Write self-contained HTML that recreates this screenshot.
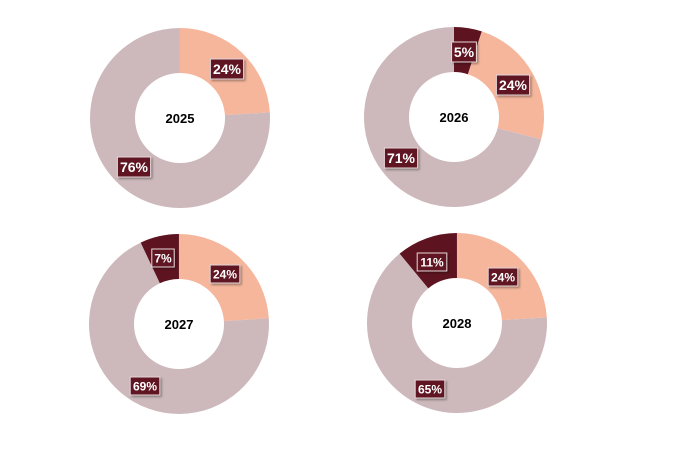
<!DOCTYPE html>
<html><head><meta charset="utf-8"><style>
html,body{margin:0;padding:0;background:#fff;}
svg text{font-family:"Liberation Sans",sans-serif;font-weight:bold;}
</style></head><body>
<svg id="s" width="680" height="446" viewBox="0 0 680 446" xmlns="http://www.w3.org/2000/svg">
<defs><filter id="sh" x="-20%" y="-20%" width="150%" height="160%"><feDropShadow dx="1.5" dy="1.5" stdDeviation="1" flood-color="#000" flood-opacity="0.35"/></filter></defs>
</svg>
<script>
const s=document.getElementById('s');
const NS='http://www.w3.org/2000/svg';
const C={m:'#cdb9bc',o:'#f5b69c',d:'#5e1420'};
function arc(cx,cy,R,r,a0,a1,col){
 const f=a=>[Math.sin(a*2*Math.PI),-Math.cos(a*2*Math.PI)];
 const [x0,y0]=f(a0),[x1,y1]=f(a1);const lg=(a1-a0)>0.5?1:0;
 const p=document.createElementNS(NS,'path');
 p.setAttribute('d',`M${cx+R*x0},${cy+R*y0} A${R},${R} 0 ${lg} 1 ${cx+R*x1},${cy+R*y1} L${cx+r*x1},${cy+r*y1} A${r},${r} 0 ${lg} 0 ${cx+r*x0},${cy+r*y0}Z`);
 p.setAttribute('fill',col);s.appendChild(p);
}
function lab(x,y,t,fs){
 const w=t.length*fs*0.6+8,h=fs+6;
 const g=document.createElementNS(NS,'g');
 g.innerHTML=`<rect x="${x-w/2}" y="${y-h/2}" width="${w}" height="${h}" fill="${C.d}" stroke="#e8d8da" stroke-width="1" filter="url(#sh)"/><text x="${x}" y="${y+fs*0.36}" font-size="${fs}" fill="#fff" text-anchor="middle">${t}</text>`;
 s.appendChild(g);
}
function donut(cx,cy,segs,year,labels,fs){
 segs.forEach(sg=>arc(cx,cy,90,45,sg[0],sg[1],sg[2]));
 const t=document.createElementNS(NS,'text');
 t.setAttribute('x',cx);t.setAttribute('y',cy+5);t.setAttribute('font-size','13');t.setAttribute('text-anchor','middle');t.setAttribute('fill','#000');t.textContent=year;s.appendChild(t);
 labels.forEach(l=>lab(l[0],l[1],l[2],fs));
}
donut(180,118,[[0,0.24,C.o],[0.24,0.9999,C.m]],'2025',[[227,69,'24%'],[134,167,'76%']],14);
donut(454,117,[[0,0.05,C.d],[0.05,0.29,C.o],[0.29,0.9999,C.m]],'2026',[[464,52,'5%'],[513,85,'24%'],[401,158,'71%']],14);
donut(179,324,[[0,0.24,C.o],[0.24,0.93,C.m],[0.93,0.9999,C.d]],'2027',[[163,258,'7%'],[225,274,'24%'],[145,386,'69%']],12);
donut(457,323,[[0,0.24,C.o],[0.24,0.89,C.m],[0.89,0.9999,C.d]],'2028',[[432,262,'11%'],[503,277,'24%'],[430,389,'65%']],12);
</script>
</body></html>
